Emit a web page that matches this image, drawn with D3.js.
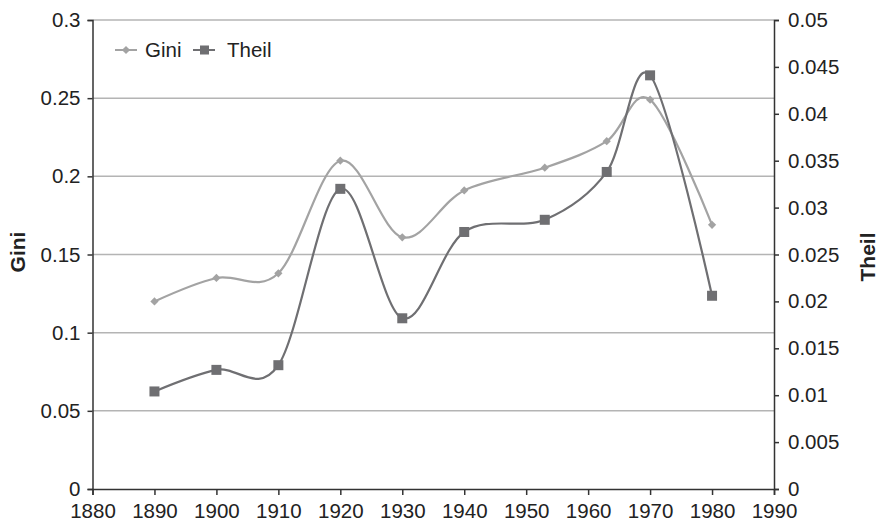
<!DOCTYPE html>
<html>
<head>
<meta charset="utf-8">
<script src="https://d3js.org/d3.v7.min.js"></script>
<style>
  body { margin: 0; background: #fff; }
  text { font-family: "Liberation Sans", Arial, sans-serif; fill: #222; }
</style>
</head>
<body>
<svg id="chart" width="879" height="523"></svg>
<script>
// data
const years = [1890, 1900, 1910, 1920, 1930, 1940, 1953, 1963, 1970, 1980];
const gini  = [0.120, 0.135, 0.138, 0.210, 0.161, 0.191, 0.2055, 0.2225, 0.249, 0.169];
const theil = [0.0104, 0.0127, 0.0132, 0.0320, 0.0182, 0.0274, 0.0287, 0.0338, 0.0441, 0.0206];
const xTicks = d3.range(1880, 1991, 10);
const giniTicks = [0, 0.05, 0.1, 0.15, 0.2, 0.25, 0.3];
const theilTicks = [0, 0.005, 0.01, 0.015, 0.02, 0.025, 0.03, 0.035, 0.04, 0.045, 0.05];

const svg = d3.select("#chart");
const plotLeft = 92.5, plotRight = 774, plotTop = 20, plotBottom = 489;

const x = d3.scaleLinear().domain([1880, 1990]).range([plotLeft, plotRight]);
const yL = d3.scaleLinear().domain([0, 0.3]).range([plotBottom, plotTop]);
const yR = d3.scaleLinear().domain([0, 0.05]).range([plotBottom, plotTop]);

const giniColor = "#a3a3a3", theilColor = "#6f6f72";

// grid lines
svg.append("g").selectAll("line")
  .data(giniTicks.filter(d => d > 0))
  .join("line")
  .attr("x1", plotLeft).attr("x2", plotRight)
  .attr("y1", d => yL(d)).attr("y2", d => yL(d))
  .attr("stroke", "#b4b4b4").attr("stroke-width", 1.5);

// axes
const fmt = d => String(d);
const axisL = svg.append("g").attr("transform", `translate(${plotLeft},0)`)
  .call(d3.axisLeft(yL).tickValues(giniTicks).tickFormat(fmt).tickSize(5).tickPadding(7));
const axisR = svg.append("g").attr("transform", `translate(${plotRight},0)`)
  .call(d3.axisRight(yR).tickValues(theilTicks).tickFormat(fmt).tickSize(5).tickPadding(9));
const axisB = svg.append("g").attr("transform", `translate(0,${plotBottom})`)
  .call(d3.axisBottom(x).tickValues(xTicks).tickFormat(d3.format("d")).tickSize(6).tickPadding(6));

[axisL, axisR, axisB].forEach(g => {
  g.select(".domain").attr("stroke", "#333").attr("stroke-width", 1.5);
  g.selectAll(".tick line").attr("stroke", "#333").attr("stroke-width", 1.5);
  g.selectAll(".tick text").style("font-size", "20.5px").attr("fill", "#222");
});
axisB.selectAll(".tick text").attr("dy", "0.82em");

// axis titles
svg.append("text")
  .attr("transform", `translate(25,252) rotate(-90)`)
  .attr("text-anchor", "middle")
  .style("font-size", "21px").style("font-weight", "bold")
  .text("Gini");
svg.append("text")
  .attr("transform", `translate(875,257) rotate(-90)`)
  .attr("text-anchor", "middle")
  .style("font-size", "21px").style("font-weight", "bold")
  .text("Theil");

// lines
const giniPts = years.map((yr, i) => [x(yr), yL(gini[i])]);
const theilPts = years.map((yr, i) => [x(yr), yR(theil[i])]);
const line = d3.line().curve(d3.curveCardinal.tension(0));

svg.append("path").attr("d", line(giniPts))
  .attr("fill", "none").attr("stroke", giniColor).attr("stroke-width", 2.2);
svg.append("path").attr("d", line(theilPts))
  .attr("fill", "none").attr("stroke", theilColor).attr("stroke-width", 2.2);

const diamond = d3.symbol().type(d3.symbolSquare).size(34);
svg.append("g").selectAll("path")
  .data(giniPts).join("path")
  .attr("d", diamond)
  .attr("transform", d => `translate(${d[0]},${d[1]}) rotate(45)`)
  .attr("fill", giniColor);

svg.append("g").selectAll("rect")
  .data(theilPts).join("rect")
  .attr("x", d => d[0] - 5).attr("y", d => d[1] - 5)
  .attr("width", 10).attr("height", 10)
  .attr("fill", theilColor);

// legend
const lg = svg.append("g");
lg.append("line").attr("x1", 115).attr("x2", 137).attr("y1", 50).attr("y2", 50)
  .attr("stroke", giniColor).attr("stroke-width", 2);
lg.append("path").attr("d", diamond).attr("transform", "translate(126,50) rotate(45)")
  .attr("fill", giniColor);
lg.append("text").attr("x", 145).attr("y", 50).attr("dy", "0.36em")
  .style("font-size", "20.5px").text("Gini");
lg.append("line").attr("x1", 193).attr("x2", 215).attr("y1", 50).attr("y2", 50)
  .attr("stroke", theilColor).attr("stroke-width", 2);
lg.append("rect").attr("x", 200).attr("y", 45.5).attr("width", 9).attr("height", 9)
  .attr("fill", theilColor);
lg.append("text").attr("x", 227).attr("y", 50).attr("dy", "0.36em")
  .style("font-size", "20.5px").text("Theil");
</script>
</body>
</html>
